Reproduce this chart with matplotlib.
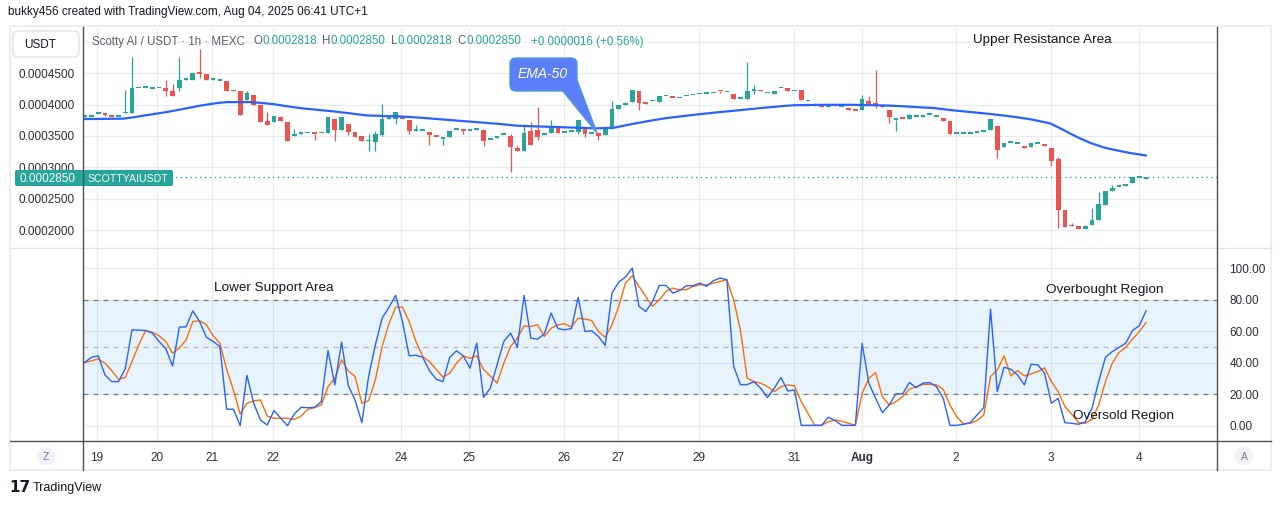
import numpy as np
import matplotlib
matplotlib.use("Agg")
import matplotlib.pyplot as plt
from matplotlib.patches import FancyBboxPatch, Polygon, Circle, Rectangle

plt.rcParams['font.family'] = ['Liberation Sans', 'DejaVu Sans']

# hourly candles, prices in units of 1e-7 USDT
opens = [3805, 3800, 3850, 3865, 3840, 3800, 3860, 3860, 4258, 4268,
         4246, 4258, 4262, 4220, 4262, 4394, 4394, 4515, 4485, 4400,
         4376, 4380, 4235, 4210, 4077, 4155, 4000, 3733, 3720, 3797,
         3722, 3505, 3536, 3541, 3532, 3541, 3545, 3775, 3600, 3690,
         3563, 3505, 3412, 3400, 3520, 3765, 3775, 3778, 3760, 3582,
         3577, 3563, 3487, 3449, 3479, 3597, 3617, 3582, 3603, 3600,
         3434, 3463, 3513, 3505, 3310, 3268, 3585, 3600, 3513, 3545,
         3633, 3547, 3560, 3558, 3617, 3529, 3545, 3521, 3606, 3934,
         3987, 4035, 4220, 4016, 4052, 4035, 4132, 4106, 4100, 4132,
         4147, 4164, 4169, 4180, 4213, 4195, 4172, 4090, 4088, 4210,
         4235, 4180, 4167, 4259, 4262, 4212, 4235, 4052, 4008, 3997,
         3955, 4008, 3963, 3921, 3900, 3908, 4060, 4000, 3997, 3918,
         3751, 3778, 3765, 3799, 3802, 3832, 3799, 3786, 3744, 3529,
         3529, 3534, 3550, 3566, 3590, 3665, 3320, 3391, 3370, 3347,
         3320, 3375, 3378, 3315, 3140, 2315, 2059, 2061, 2019, 2082,
         2161, 2400, 2622, 2687, 2695, 2750, 2831, 2818]
closes = [3812, 3840, 3855, 3840, 3795, 3807, 3880, 4262, 4262, 4272,
          4250, 4262, 4210, 4145, 4394, 4405, 4500, 4485, 4394, 4405,
          4380, 4210, 4210, 3840, 4180, 4000, 3720, 3680, 3812, 3745,
          3426, 3510, 3540, 3545, 3528, 3545, 3807, 3600, 3807, 3563,
          3479, 3415, 3415, 3537, 3775, 3823, 3887, 3775, 3574, 3585,
          3580, 3510, 3484, 3452, 3585, 3600, 3574, 3585, 3606, 3415,
          3437, 3505, 3516, 3320, 3257, 3553, 3352, 3479, 3516, 3665,
          3545, 3550, 3563, 3760, 3532, 3532, 3500, 3617, 3934, 3997,
          4018, 4235, 4018, 4013, 4055, 4140, 4135, 4103, 4103, 4135,
          4150, 4167, 4172, 4183, 4210, 4198, 4088, 4093, 4220, 4250,
          4210, 4183, 4220, 4262, 4210, 4215, 4066, 4055, 3982, 3955,
          3997, 3971, 3966, 3918, 3897, 4093, 4008, 3997, 3955, 3796,
          3754, 3775, 3840, 3802, 3840, 3835, 3802, 3733, 3532, 3532,
          3532, 3537, 3553, 3569, 3775, 3283, 3394, 3394, 3373, 3304,
          3394, 3378, 3336, 3098, 2320, 2050, 2056, 2019, 2067, 2156,
          2410, 2622, 2664, 2690, 2728, 2850, 2834, 2850]
# wicks that reach past the body (candle index: price)
upper_wicks = {6: 4235, 7: 4754, 12: 4394, 13: 4325, 14: 4754, 17: 4886,
               24: 4225, 27: 3890, 31: 3617, 42: 3537, 43: 3585, 44: 4008,
               49: 3680, 63: 3530, 64: 3336, 65: 3680, 66: 3722, 67: 3966,
               69: 3760, 78: 4060, 83: 4040, 98: 4675, 99: 4315, 113: 3935,
               115: 4156, 116: 4130, 117: 4553, 122: 3855, 144: 3172,
               146: 2108, 148: 2080, 149: 2347, 150: 2606, 152: 2717}
lower_wicks = {3: 3815, 12: 4145, 14: 4225, 17: 4420, 31: 3495, 34: 3430,
               37: 3426, 39: 3510, 42: 3257, 43: 3257, 44: 3495, 46: 3695,
               48: 3537, 51: 3350, 53: 3350, 56: 3530, 59: 3336, 63: 2918,
               67: 3442, 73: 3530, 74: 3484, 76: 3432, 82: 3918, 94: 4180,
               99: 4177, 117: 3945, 119: 3700, 120: 3574, 135: 3151,
               143: 3019, 144: 2030}

# EMA-50 (candle index, price)
ema_pos = [-0.25, 2.5, 5.7, 7.1, 9.6, 12.1, 14.5, 17.0, 19.5, 21.0, 24.4,
           25.9, 27.9, 29.8, 31.8, 34.3, 36.8, 39.3, 41.7, 44.2, 46.6, 49.1,
           51.6, 54.0, 56.5, 59.0, 61.4, 63.9, 66.4, 68.9, 71.4, 73.8, 75.9,
           78.3, 81.2, 83.7, 86.1, 88.6, 91.1, 93.5, 96.0, 98.5, 101.0,
           103.4, 105.0, 108.4, 110.8, 113.3, 115.8, 118.2, 120.7, 123.1,
           125.6, 128.1, 131.1, 134.1, 137.0, 140.0, 142.8, 144.4, 145.9,
           147.4, 148.9, 150.8, 152.8, 154.8, 157.0]
ema_val = [3770, 3772, 3776, 3796, 3839, 3881, 3929, 3982, 4024, 4040, 4040,
           4029, 4008, 3976, 3945, 3918, 3892, 3860, 3828, 3818, 3812, 3796,
           3775, 3754, 3733, 3712, 3691, 3664, 3654, 3646, 3636, 3628, 3622,
           3632, 3695, 3744, 3786, 3818, 3849, 3876, 3902, 3929, 3955, 3978,
           3990, 3996, 3997, 3997, 3992, 3987, 3976, 3960, 3945, 3913, 3881,
           3849, 3812, 3765, 3701, 3617, 3532, 3453, 3384, 3315, 3267, 3225,
           3188]

# stochastic RSI %K (blue) and %D (orange)
stoch_k = [40.2, 43.5, 44.4, 32.3, 28.1, 28.1, 36.2, 60.9, 60.7, 60.5,
           58.8, 53.5, 49.0, 38.0, 62.6, 62.8, 72.9, 66.2, 56.2, 53.5,
           50.3, 10.6, 10.6, 0.2, 32.1, 14.4, 3.8, 0.6, 9.7, 4.9,
           0.2, 7.6, 11.8, 11.6, 11.8, 15.4, 47.8, 26.0, 53.1, 25.4,
           16.5, 2.1, 31.3, 51.4, 68.3, 75.0, 82.7, 66.2, 44.4, 44.8,
           43.5, 35.1, 29.6, 28.1, 43.5, 47.6, 44.4, 36.6, 52.4, 18.2,
           23.9, 38.7, 53.5, 58.8, 49.9, 82.7, 55.6, 55.0, 58.4, 71.5,
           61.7, 60.9, 61.7, 81.4, 59.8, 60.3, 56.7, 51.0, 84.1, 91.1,
           94.3, 100.0, 75.7,
           72.5, 78.9, 89.0, 89.0, 84.1, 85.8, 88.8, 88.8, 90.5, 88.4,
           92.0, 93.7, 92.6, 37.8, 26.2, 26.2, 28.1, 23.9, 18.0, 23.9,
           30.7, 22.2, 22.8, 0.4, 0.4, 0.4, 0.4, 5.5, 3.4, 0.4,
           0.4, 0.4, 52.4, 27.1, 17.5, 8.5, 13.3, 20.3, 20.3, 27.5,
           24.3, 27.1, 27.5, 24.9, 17.5, 0.4, 0.4, 1.1, 2.1, 7.0,
           11.6, 74.0, 21.8, 37.2, 35.9, 32.3, 26.0, 39.1, 38.7, 33.4,
           14.4, 17.5, 2.1, 1.7, 1.1, 2.5, 11.2, 28.1, 43.5, 47.1,
           49.7, 52.4, 60.5, 63.4, 72.9]
stoch_d = [40.2, 41.2, 42.5, 39.7, 35.1, 29.6, 30.7, 40.8, 51.4, 60.3,
           59.4, 57.1, 53.5, 46.1, 49.3, 54.5, 66.2, 66.6, 64.1, 57.1,
           52.4, 35.9, 22.8, 7.6, 14.4, 15.9, 16.5, 6.3, 4.9, 4.9,
           4.9, 4.2, 6.3, 10.6, 11.6, 13.3, 24.9, 30.2, 41.9, 34.9,
           31.3, 14.4, 16.1, 29.2, 50.3, 64.7, 75.3, 75.3, 66.2, 53.5,
           44.0, 40.8, 35.9, 30.9, 33.4, 39.7, 44.4, 42.9, 44.4, 35.9,
           31.7, 27.1, 39.7, 50.3, 55.6, 63.4, 63.0, 64.1, 56.7, 61.9,
           64.1, 64.7, 62.6, 68.3, 67.7, 66.8, 59.8, 56.2, 64.1, 75.7,
           90.5, 95.1, 88.4,
           82.0, 75.7, 79.9, 85.2, 87.3, 86.3, 86.3, 88.4, 89.4, 89.4,
           90.5, 91.5, 92.6, 79.9, 60.9, 30.2, 28.1, 27.1, 24.9, 21.8,
           24.9, 26.0, 25.4, 15.4, 8.0, 0.4, 0.4, 2.7, 3.8, 3.0,
           1.7, 0.4, 20.7, 30.2, 33.8, 18.6, 13.3, 15.4, 18.6, 23.3,
           24.9, 26.4, 26.4, 26.0, 23.3, 13.3, 5.9, 1.3, 1.7, 3.4,
           7.0, 31.3, 35.5, 44.4, 31.7, 35.1, 31.7, 33.0, 34.5, 36.8,
           28.1, 21.8, 12.3, 7.6, 2.1, 1.7, 4.2, 13.3, 28.1, 39.7,
           46.5, 49.9, 55.0, 59.8, 65.5]

day_pos = [1.8, 10.7, 18.8, 27.9, 46.8, 56.9, 70.9, 78.9, 90.9, 104.9,
           115.0, 128.9, 142.9, 155.9]
day_labels = ['19', '20', '21', '22', '24', '25', '26', '27', '29', '31',
              'Aug', '2', '3', '4']
price_ticks = [2000, 2500, 3000, 3500, 4000, 4500, 5000]
stoch_ticks = [0, 20, 40, 60, 80, 100]

UP = '#26a69a'
DOWN = '#ef5350'
GRID = '#e8ebf1'
DARK = '#4c4f5a'
TXT = '#131722'

W, H = 1281, 505
fig = plt.figure(figsize=(W / 100, H / 100), dpi=100)
fig.patch.set_facecolor('white')


def box(x0, y0, x1, y1):
    return [x0 / W, 1 - y1 / H, (x1 - x0) / W, (y1 - y0) / H]


ax1 = fig.add_axes(box(83, 28, 1217, 248))
ax2 = fig.add_axes(box(83, 248, 1217, 441))

# ---- price pane
sc = 1e-7
o = np.array(opens) * sc
c = np.array(closes) * sc
n = len(o)
idx = np.arange(n)
hi = np.maximum(o, c)
lo = np.minimum(o, c)
for k, v in upper_wicks.items():
    hi[k] = v * sc
for k, v in lower_wicks.items():
    lo[k] = v * sc
up = c >= o
cols = np.where(up, UP, DOWN)

for x in day_pos:
    ax1.axvline(x, color=GRID, lw=0.8, zorder=0)
for y in price_ticks:
    ax1.axhline(y * sc, color=GRID, lw=0.8, zorder=0)

ax1.vlines(idx, lo, hi, colors=cols, lw=0.9, zorder=2)
body_h = np.maximum(np.abs(c - o), 28 * sc)
ax1.bar(idx, body_h, width=0.7, bottom=np.minimum(o, c), color=cols,
        linewidth=0, zorder=3)
ax1.plot(ema_pos, np.array(ema_val) * sc, color='#2962ff', lw=1.6, zorder=4,
         solid_joinstyle='round', solid_capstyle='round')
ax1.axhline(closes[-1] * sc, color=UP, lw=1, ls=(0, (1, 2.5)), zorder=1)

ax1.set_xlim(-0.25, 167.5)
ax1.set_ylim(1713 * sc, 5222 * sc)
ax1.set_yticks([t * sc for t in price_ticks])
# the 0.0005000 label sits under the USDT button in the original
ax1.set_yticklabels([f'{t * sc:.7f}' if t < 5000 else '' for t in price_ticks])
ax1.set_xticks(day_pos)
ax1.tick_params(axis='x', length=0, labelbottom=False)
ax1.tick_params(axis='y', length=0, pad=6, labelsize=8.5, labelcolor='#2a2e39')
for s in ax1.spines.values():
    s.set_visible(False)

# ---- stochastic RSI pane
for x in day_pos:
    ax2.axvline(x, color=GRID, lw=0.8, zorder=0)
for y in stoch_ticks:
    ax2.axhline(y, color=GRID, lw=0.8, zorder=0)
ax2.axhspan(20, 80, color='#2196f3', alpha=0.1, lw=0, zorder=0)
ax2.axhline(80, color='#787b86', lw=0.9, ls=(0, (4, 4)), zorder=1)
ax2.axhline(50, color='#b2b5be', lw=0.9, ls=(0, (4, 4)), zorder=1)
ax2.axhline(20, color='#787b86', lw=0.9, ls=(0, (4, 4)), zorder=1)
ax2.plot(idx, stoch_k, color='#2962ff', lw=1.0, zorder=3)
ax2.plot(idx, stoch_d, color='#ff6d00', lw=1.0, zorder=2)

ax2.set_xlim(-0.25, 167.5)
ax2.set_ylim(-9.5, 112.7)
ax2.yaxis.tick_right()
ax2.set_yticks(stoch_ticks)
ax2.set_yticklabels([f'{t:.2f}' for t in stoch_ticks])
ax2.set_xticks(day_pos)
ax2.set_xticklabels(day_labels)
for lab in ax2.get_xticklabels():
    if lab.get_text() == 'Aug':
        lab.set_fontweight('bold')
ax2.tick_params(axis='both', length=0, labelsize=8.5, labelcolor='#2a2e39')
ax2.tick_params(axis='y', pad=9)
ax2.tick_params(axis='x', pad=8)
for s in ax2.spines.values():
    s.set_visible(False)

# ---- overlay in pixel coordinates
ov = fig.add_axes([0, 0, 1, 1], zorder=10)
ov.set_xlim(0, W)
ov.set_ylim(H, 0)
ov.axis('off')
ov.patch.set_alpha(0)

ov.add_patch(Rectangle((10, 26), 1261, 444, fill=False, ec='#eceef3', lw=1.5))
ov.plot([10, 1271], [248, 248], color='#e0e3eb', lw=1)
ov.plot([10, 1271], [441, 441], color=DARK, lw=1)
ov.plot([83, 83], [27, 470], color=DARK, lw=1)
ov.plot([1217, 1217], [27, 470], color=DARK, lw=1)

# USDT button
ov.add_patch(FancyBboxPatch((13, 31), 66, 26, boxstyle='round,pad=0,rounding_size=5',
                            fc='white', ec='#e0e3eb', lw=1))
ov.text(24, 44.5, 'USDT', fontsize=8.5, color=TXT, va='center', ha='left')

# last price label
ov.add_patch(FancyBboxPatch((15, 170), 158, 16, boxstyle='round,pad=0,rounding_size=2',
                            fc=UP, ec='none'))
ov.text(20, 178.5, f'{closes[-1] * sc:.7f}', fontsize=8.5, color='white',
        va='center', ha='left')
ov.text(87, 178.5, 'SCOTTYAIUSDT', fontsize=7.6, color='white', va='center', ha='left')

# legend line
gray = '#5d606b'
prev_close = closes[-2]
chg = closes[-1] - prev_close
pieces = [('O', gray, 6), (f'{opens[-1] * sc:.7f}', UP, 0),
          ('H', gray, 4), (f'{hi[-1]:.7f}', UP, 0),
          ('L', gray, 4), (f'{lo[-1]:.7f}', UP, 0),
          ('C', gray, 4), (f'{closes[-1] * sc:.7f}', UP, 0),
          (f'+{chg * sc:.7f} (+{chg / prev_close * 100:.2f}%)', UP, 7)]
prev = ov.text(92, 41.5, 'Scotty AI / USDT · 1h · MEXC', fontsize=8.3, color=gray,
               va='center', ha='left')
for s, col, gap in pieces:
    prev = ov.annotate(s, xy=(1, 0), xycoords=prev, xytext=(gap, 0),
                       textcoords='offset points', fontsize=8.3, color=col,
                       va='bottom', ha='left')

# EMA-50 callout
ov.add_patch(Polygon([(562, 90), (577, 80), (597, 133)], closed=True,
                     fc='#5b7ff9', ec='#4d9ad8', lw=1))
ov.add_patch(FancyBboxPatch((510, 58), 67, 33, boxstyle='round,pad=0,rounding_size=6',
                            fc='#5b7ff9', ec='#4d9ad8', lw=1))
ov.add_patch(Polygon([(563, 89), (576, 82), (596, 131)], closed=True,
                     fc='#5b7ff9', ec='none'))
ov.text(543, 74, 'EMA-50', fontsize=10, color='white', style='italic',
        va='center', ha='center')

# area labels
ov.text(973, 39.5, 'Upper Resistance Area', fontsize=9.7, color=TXT, va='center', ha='left')
ov.text(214, 288.5, 'Lower Support Area', fontsize=9.7, color=TXT, va='center', ha='left')
ov.text(1046, 290.5, 'Overbought Region', fontsize=9.7, color=TXT, va='center', ha='left')
ov.text(1073, 415.5, 'Oversold Region', fontsize=9.7, color=TXT, va='center', ha='left')

# Z / A buttons
for cx, letter in [(46, 'Z'), (1244, 'A')]:
    ov.add_patch(Circle((cx, 456), 9, fc='#f0f3fa', ec='none'))
    ov.text(cx, 456.5, letter, fontsize=7.5, color='#787b86', va='center', ha='center')

# header / footer
ov.text(8, 12, 'bukky456 created with TradingView.com, Aug 04, 2025 06:41 UTC+1',
        fontsize=8.5, color=TXT, va='center', ha='left')
ov.text(9, 488, '17', fontsize=11, fontweight='heavy', color=TXT, va='center',
        ha='left', family='DejaVu Sans')
ov.text(33, 488, 'TradingView', fontsize=9, color=TXT, va='center', ha='left')

fig.savefig('out.png', dpi=100)
